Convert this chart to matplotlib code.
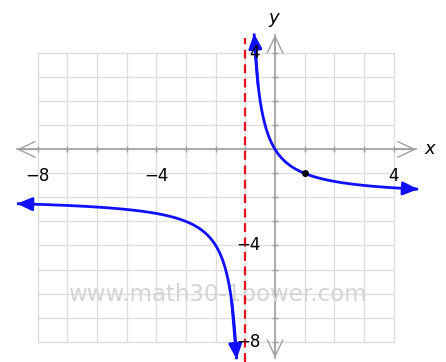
"""Rational function y = 2/(x+1) - 2 with its vertical asymptote."""

import numpy as np
import matplotlib.pyplot as plt

plt.rcParams["font.family"] = ["DejaVu Sans"]

# values
grid_ticks = list(range(-8, 5))
x_labels = [-8, -4, 4]
y_labels = [4, -4, -8]
asymptote_x = -1
asymptote_y = -2
numerator = 2
marked_point = (1, -1)
right_branch = (-0.707, 4.82)      # x from top arrow tip to right arrow tip
left_branch = (-8.7, -1.297)       # x from left arrow tip to bottom arrow tip


def f(x):
    return numerator / (x - asymptote_x) + asymptote_y


def branch(ax, x0, x1):
    xs = np.linspace(x0, x1, 400)
    ys = f(xs)
    ax.plot(xs, ys, color="#1010ff", lw=2, solid_capstyle="butt", zorder=4)
    ap = dict(arrowstyle="-|>,head_width=0.4,head_length=0.9", color="#1010ff",
              lw=2, mutation_scale=10, shrinkA=0, shrinkB=0)
    # arrow tips at both ends
    ax.annotate("", xy=(xs[0], ys[0]), xytext=(xs[10], ys[10]), arrowprops=ap, zorder=5)
    ax.annotate("", xy=(xs[-1], ys[-1]), xytext=(xs[-10], ys[-10]), arrowprops=ap, zorder=5)


fig = plt.figure(figsize=(4.46, 3.62), dpi=100)
ax = fig.add_axes([0, 0, 1, 1])
ax.set_xlim(-9.27, 5.76)
ax.set_ylim(-8.85, 6.22)
ax.axis("off")

# grid
for t in grid_ticks:
    ax.plot([t, t], [-8, 4], color="#dedede", lw=1, zorder=1)
    ax.plot([-8, 4], [t, t], color="#dedede", lw=1, zorder=1)

# axes with open arrow heads
ax.plot([-8.7, 4.75], [0, 0], color="#a0a0a0", lw=1.2, zorder=2)
ax.plot([0, 0], [-8.68, 4.77], color="#a0a0a0", lw=1.2, zorder=2)
head = dict(arrowstyle="->,head_width=0.4,head_length=0.85", color="#a0a0a0",
            lw=1.0, mutation_scale=14, shrinkA=0, shrinkB=0)
ax.annotate("", xy=(4.75, 0), xytext=(4.0, 0), arrowprops=head, zorder=2)
ax.annotate("", xy=(-8.7, 0), xytext=(-8.0, 0), arrowprops=head, zorder=2)
ax.annotate("", xy=(0, 4.77), xytext=(0, 4.0), arrowprops=head, zorder=2)
ax.annotate("", xy=(0, -8.68), xytext=(0, -8.0), arrowprops=head, zorder=2)

# tick marks
ax.plot(grid_ticks, [0] * len(grid_ticks), ls="none", marker="|", ms=5,
        mew=1, color="#a0a0a0", zorder=2)
ax.plot([0] * len(grid_ticks), grid_ticks, ls="none", marker="_", ms=5,
        mew=1, color="#a0a0a0", zorder=2)

# tick labels
for v in x_labels:
    ax.text(v, -1.1, f"\u2212{abs(v)}" if v < 0 else str(v), fontsize=12,
            ha="center", va="center", zorder=6)
for v in y_labels:
    ax.text(-0.5, v, f"\u2212{abs(v)}" if v < 0 else str(v), fontsize=12,
            ha="right", va="center", zorder=6)

ax.text(5.22, 0.0, "x", fontsize=13, style="italic", ha="center", va="center")
ax.text(-0.03, 5.47, "y", fontsize=13, style="italic", ha="center", va="center")

# watermark
ax.text(-1.94, -6.06, "www.math30-1power.com", fontsize=16.5, color="#d4d4d4",
        ha="center", va="center", zorder=3)

# vertical asymptote
ax.plot([asymptote_x, asymptote_x], [-8.85, 4.63], color="#e8101a", lw=1.6,
        dashes=(4, 2.5), zorder=3)

# curve
branch(ax, *right_branch)
branch(ax, *left_branch)

ax.plot([marked_point[0]], [marked_point[1]], "o", color="black", ms=4, zorder=6)

fig.savefig("out.png", dpi=100, facecolor="white")
